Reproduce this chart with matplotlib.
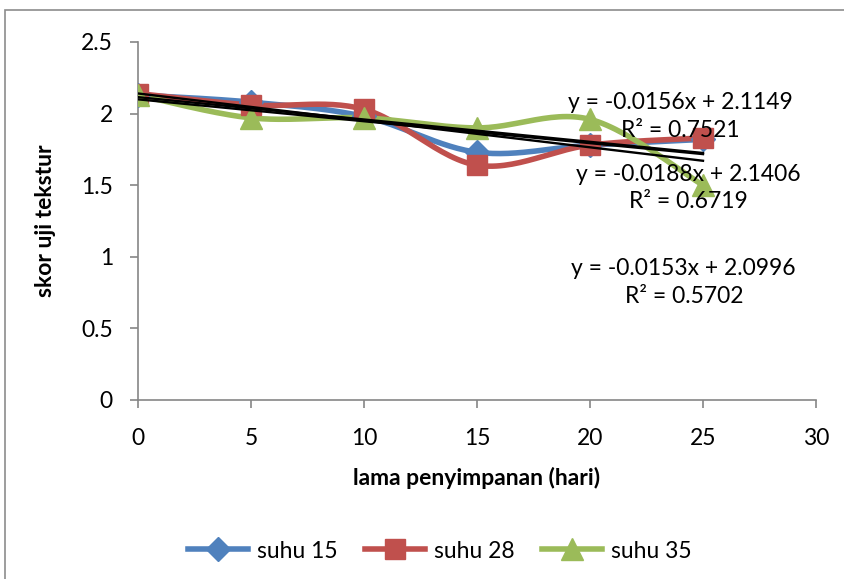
import numpy as np
import matplotlib.pyplot as plt
from matplotlib.patches import Rectangle
from matplotlib.lines import Line2D

plt.rcParams['font.family'] = ['Lato', 'DejaVu Sans']

# storage time (days) and texture scores
hari = [0, 5, 10, 15, 20, 25]
suhu_15 = [2.13, 2.08, 1.98, 1.73, 1.78, 1.82]
suhu_28 = [2.14, 2.06, 2.03, 1.64, 1.78, 1.83]
suhu_35 = [2.13, 1.97, 1.97, 1.90, 1.96, 1.50]
labels = ["suhu 15", "suhu 28", "suhu 35"]

# linear trendlines (slope, intercept, R²)
slopes = [-0.0156, -0.0188, -0.0153]
intercepts = [2.1149, 2.1406, 2.0996]
r2 = [0.7521, 0.6719, 0.5702]
label_pos = [(24.0, 1.98), (24.35, 1.48), (24.15, 0.82)]

colors = ["#4F81BD", "#C0504D", "#9BBB59"]
markers = ["D", "s", "^"]
msizes = [12, 15, 16]


def smooth(x, y, n=30):
    # bezier smoothing between points, like office "smoothed line"
    p = np.column_stack([x, y]).astype(float)
    ext = np.vstack([p[0], p, p[-1]])
    out = []
    t = np.linspace(0, 1, n)[:, None]
    for i in range(len(p) - 1):
        p0, p3 = ext[i + 1], ext[i + 2]
        c1 = p0 + (ext[i + 2] - ext[i]) / 6
        c2 = p3 - (ext[i + 3] - ext[i + 1]) / 6
        seg = ((1 - t) ** 3) * p0 + 3 * ((1 - t) ** 2) * t * c1 + 3 * (1 - t) * t ** 2 * c2 + t ** 3 * p3
        out.append(seg if i == 0 else seg[1:])
    s = np.vstack(out)
    return s[:, 0], s[:, 1]


fig = plt.figure(figsize=(8.45, 5.79), dpi=100)
fig.patches.append(Rectangle((5 / 845, -0.05), 1.2, 1 + 0.05 - 10 / 579,
                             transform=fig.transFigure, fill=False,
                             edgecolor="#8c8c8c", linewidth=1.2))

ax = fig.add_axes([138 / 845, 1 - 400 / 579, 678 / 845, 358 / 579])

series = [suhu_15, suhu_28, suhu_35]
for ys, c, m, ms in zip(series, colors, markers, msizes):
    sx, sy = smooth(hari, ys)
    ax.plot(sx, sy, color=c, linewidth=4, zorder=2, solid_capstyle="round")
    ax.plot(hari, ys, linestyle="none", marker=m, markersize=ms, color=c, zorder=3)

xt = np.array([hari[0], hari[-1]], dtype=float)
for a, b in zip(slopes, intercepts):
    ax.plot(xt, a * xt + b, color="black", linewidth=1.7, zorder=4)

for a, b, r, (tx, ty) in zip(slopes, intercepts, r2, label_pos):
    ax.text(tx, ty, f"y = {a:.4f}x + {b:.4f}\nR² = {r:.4f}", ha="center", va="center",
            fontsize=16.5, linespacing=1.4, zorder=5)

ax.set_xlim(0, 30)
ax.set_ylim(0, 2.5)
ax.set_xticks(range(0, 31, 5))
ax.set_yticks([0, 0.5, 1, 1.5, 2, 2.5])
ax.set_yticklabels(["0", "0.5", "1", "1.5", "2", "2.5"])
for s in ["top", "right"]:
    ax.spines[s].set_visible(False)
for s in ["left", "bottom"]:
    ax.spines[s].set_color("#868686")
    ax.spines[s].set_linewidth(1.2)
ax.tick_params(axis="both", colors="#868686", labelcolor="black", labelsize=16.5,
               direction="out", length=6, width=1.2)
ax.tick_params(axis="x", pad=14)
ax.tick_params(axis="y", pad=12)

ax.set_xlabel("lama penyimpanan (hari)", fontsize=16.5, fontweight="bold", labelpad=13)
ax.set_ylabel("skor uji tekstur", fontsize=16.5, fontweight="bold", labelpad=18)

handles = [Line2D([], [], color=c, marker=m, markersize=ms, linewidth=4)
           for c, m, ms in zip(colors, markers, msizes)]
fig.legend(handles, labels, loc="center", bbox_to_anchor=(440 / 845, 1 - 551 / 579),
           ncol=3, frameon=False, fontsize=16.5, handlelength=2.6, columnspacing=1.2,
           handletextpad=0.4)

fig.savefig("out.png", dpi=100)
